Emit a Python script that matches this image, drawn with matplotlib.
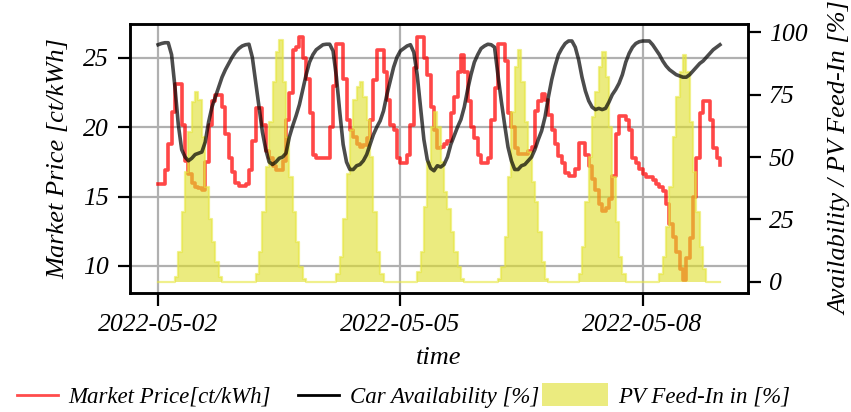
import matplotlib

matplotlib.use("Agg")

import matplotlib.dates as mdates
import matplotlib.pyplot as plt
import numpy as np
import pandas as pd
from matplotlib.legend_handler import HandlerPatch
from matplotlib.lines import Line2D
from matplotlib.patches import Patch, Rectangle

plt.rcParams["font.family"] = "serif"
plt.rcParams["font.serif"] = ["Liberation Serif", "DejaVu Serif"]
plt.rcParams["font.style"] = "italic"

# hourly series for one week, 2022-05-02 00:00 .. 2022-05-08 23:00
start = "2022-05-02"
hours = 168

market_price = [
    15.9, 15.9, 16.9, 18.8, 21.1, 23.1, 23.1, 20.2, 17.6, 16.6, 16.0, 15.7,
    15.6, 15.5, 17.5, 20.2, 21.9, 22.3, 22.3, 21.5, 19.5, 17.8, 16.8, 16.0,
    15.8, 15.8, 15.9, 16.9, 19.0, 21.4, 21.4, 20.2, 18.3, 17.8, 17.2, 16.9,
    16.9, 17.6, 20.5, 22.5, 25.6, 25.8, 26.5, 25.0, 23.5, 21.0, 18.0, 17.8,
    17.8, 17.8, 17.8, 20.0, 23.0, 26.0, 26.0, 23.5, 20.5, 19.8, 19.3, 18.8,
    18.6, 18.7, 19.2, 20.5, 23.4, 25.6, 25.6, 24.0, 22.0, 20.2, 19.8, 17.8,
    17.4, 17.4, 18.0, 20.2, 24.3, 26.5, 26.5, 25.0, 23.8, 21.5, 19.8, 18.5,
    18.6, 18.8, 19.0, 21.0, 22.2, 24.0, 25.2, 24.0, 21.9, 20.0, 19.2, 18.0,
    17.4, 17.4, 17.8, 20.5, 22.8, 26.0, 26.0, 24.8, 21.0, 20.0, 18.5, 18.1,
    18.1, 18.1, 18.3, 18.6, 21.2, 21.9, 22.4, 22.0, 20.9, 19.8, 18.8, 17.9,
    17.4, 16.7, 16.5, 16.5, 17.0, 18.9, 18.9, 18.0, 17.2, 16.3, 15.5, 14.5,
    14.0, 14.2, 14.8, 16.5, 19.5, 20.8, 20.8, 20.5, 19.8, 17.8, 17.4, 17.0,
    16.6, 16.4, 16.4, 16.2, 15.9, 15.7, 15.4, 14.5, 13.0, 12.1, 11.0, 9.8,
    9.0, 10.6, 12.0, 15.0, 17.8, 21.0, 21.9, 21.9, 20.5, 18.5, 17.8, 17.3,
]

car_availability = [
    95.0, 95.5, 95.8, 95.8, 91.0, 78.0, 63.0, 53.0, 50.0, 48.5, 49.5, 51.0,
    51.5, 52.0, 56.0, 64.0, 70.0, 74.0, 78.0, 82.0, 85.0, 87.5, 90.0, 92.0,
    93.5, 94.5, 95.0, 95.2, 90.0, 80.0, 70.0, 60.0, 53.0, 48.0, 47.0, 48.0,
    49.5, 50.0, 51.5, 58.0, 62.5, 66.5, 71.0, 77.0, 83.0, 88.0, 91.0, 93.0,
    94.0, 95.0, 95.2, 95.2, 92.5, 82.0, 68.0, 55.0, 48.0, 45.0, 45.0, 46.5,
    47.0, 48.5, 51.0, 55.0, 59.0, 62.0, 64.5, 68.5, 75.0, 80.5, 86.0, 90.0,
    92.5, 93.5, 94.5, 95.0, 92.0, 83.0, 70.0, 57.0, 49.0, 45.5, 44.5, 46.5,
    46.0, 47.0, 50.0, 55.0, 58.5, 62.0, 65.0, 70.0, 77.0, 83.0, 88.0, 91.0,
    93.5, 94.5, 95.2, 95.0, 94.0, 83.0, 72.5, 63.0, 54.0, 48.5, 45.0, 45.0,
    46.5, 47.0, 48.5, 50.0, 53.0, 57.0, 60.5, 66.0, 74.0, 81.0, 86.5, 91.0,
    93.5, 95.5, 96.5, 96.5, 94.0, 89.0, 82.0, 76.5, 72.5, 70.0, 69.0, 69.5,
    69.0, 69.5, 72.0, 75.0, 77.0, 79.5, 83.0, 88.0, 91.5, 94.0, 95.5, 96.2,
    96.5, 96.5, 96.5, 95.0, 93.0, 91.0, 88.5, 86.5, 85.0, 84.0, 83.0, 82.5,
    82.0, 82.0, 83.0, 84.5, 86.0, 87.5, 88.5, 90.0, 91.5, 93.0, 94.0, 95.0,
]

pv_feed_in = [
    0, 0, 0, 0, 0, 2, 12, 28, 44, 60, 72, 76, 73, 58, 38, 25, 16, 8, 2, 0, 0, 0, 0, 0,
    0, 0, 0, 0, 0, 3, 12, 28, 46, 64, 80, 92, 97, 80, 58, 42, 28, 16, 6, 1, 0, 0, 0, 0,
    0, 0, 0, 0, 0, 3, 10, 25, 43, 61, 73, 78, 80, 74, 65, 50, 28, 12, 3, 0, 0, 0, 0, 0,
    0, 0, 0, 0, 0, 4, 12, 30, 48, 62, 68, 62, 48, 36, 29, 20, 12, 6, 1, 0, 0, 0, 0, 0,
    0, 0, 0, 0, 0, 1, 6, 18, 42, 68, 86, 93, 80, 64, 52, 40, 32, 20, 8, 1, 0, 0, 0, 0,
    0, 0, 0, 0, 0, 3, 14, 32, 50, 66, 76, 86, 92, 82, 62, 42, 24, 10, 3, 0, 0, 0, 0, 0,
    0, 0, 0, 0, 0, 3, 10, 22, 38, 58, 74, 84, 91, 84, 64, 44, 28, 14, 5, 0, 0, 0, 0, 0,
]

tick_dates = ["2022-05-02", "2022-05-05", "2022-05-08"]

time = pd.date_range(start, periods=hours, freq="h")
price = np.array(market_price)
avail = np.array(car_availability)
pv = np.array(pv_feed_in, dtype=float)

RED = "red"
PV_COLOR = "#dede2a"
FS = 18.5


class WidePatchHandler(HandlerPatch):
    # fill swatch stretched to the left, ending where the line handles end
    def create_artists(self, legend, orig_handle, xdescent, ydescent,
                       width, height, fontsize, trans):
        rect = Rectangle((-xdescent - 0.6 * width, -ydescent - 0.2 * height),
                         width * 1.6, height * 1.4,
                         facecolor=orig_handle.get_facecolor(),
                         edgecolor="none", transform=trans)
        return [rect]


fig = plt.figure(figsize=(8.51, 4.12), dpi=100)
ax = fig.add_axes([0.1528, 0.2888, 0.7262, 0.6529])
ax2 = ax.twinx()

ax.step(time, price, where="post", color=RED, alpha=0.72, lw=2.6)
ax2.fill_between(time, pv, step="post", color=PV_COLOR, alpha=0.6, lw=0)
ax2.step(time, pv, where="post", color="#e6e640", alpha=0.6, lw=1.6)
ax2.plot(time, avail, color="black", alpha=0.7, lw=2.6)

ax.set_ylim(8.05, 27.45)
ax2.set_ylim(-4.5, 103.3)
ax.set_yticks([10, 15, 20, 25])
ax2.set_yticks([0, 25, 50, 75, 100])
ax.set_xticks(pd.to_datetime(tick_dates))
ax.xaxis.set_major_formatter(mdates.DateFormatter("%Y-%m-%d"))

ax.grid(True, color="#b0b0b0", lw=1.6)
ax.set_axisbelow(True)

for a in (ax, ax2):
    a.tick_params(labelsize=FS, length=9, width=1.6, pad=6)
    for s in a.spines.values():
        s.set_linewidth(1.8)

ax.set_ylabel("Market Price [ct/kWh]", fontsize=FS + 0.5, labelpad=10)
ax2.set_ylabel("Availability / PV Feed-In [%]", fontsize=FS + 0.5, labelpad=16)
ax.set_xlabel("time", fontsize=FS + 0.5, labelpad=8)

handles = [
    Line2D([], [], color=RED, alpha=0.7, lw=2),
    Line2D([], [], color="black", lw=2),
    Patch(facecolor=PV_COLOR, alpha=0.6),
]
labels = ["Market Price[ct/kWh]", "Car Availability [%]", "PV Feed-In in [%]"]
fig.legend(handles, labels, loc="center", bbox_to_anchor=(0.474, 0.036),
           ncol=3, frameon=False, fontsize=16.5, handlelength=1.8,
           handletextpad=0.45, columnspacing=1.2,
           handler_map={Patch: WidePatchHandler()})

fig.savefig("out.png", dpi=100)
